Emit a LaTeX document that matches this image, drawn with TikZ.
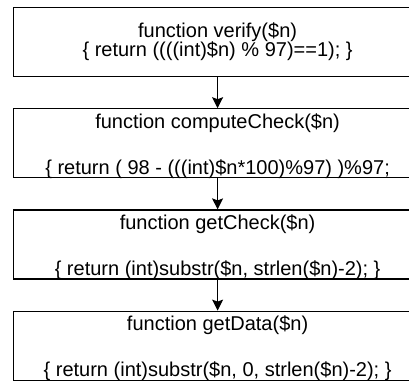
\documentclass[tikz,border=0pt]{standalone}
\usepackage{fontspec}
\setmainfont{Liberation Sans}
\usetikzlibrary{positioning, arrows.meta}

\tikzset{
  funcbox/.style={draw, line width=1.2pt, minimum width=408pt, minimum height=69pt,
    inner sep=0pt, align=center, font=\fontsize{20}{22}\selectfont},
  lowtext/.style={text height=65.5pt, text depth=3.5pt},
  flow/.style={-{Stealth[length=11pt,width=11pt,inset=2pt]}, line width=1.2pt}
}

\begin{document}
\begin{tikzpicture}[x=1pt, y=-1pt]
    % Page frame
    \clip (0,0) rectangle (409,380);

    % Function boxes
    \node[funcbox, anchor=north west, font=\fontsize{20}{19}\selectfont] (verify) at (13,7)
        {function verify(\$n)\\\{ return ((((int)\$n) \% 97)==1); \}};
    \node[funcbox, lowtext, below=31pt of verify] (compute)
        {function computeCheck(\$n)\\[24pt]\{ return ( 98 - (((int)\$n*100)\%97) )\%97;};
    \node[funcbox, lowtext, below=31pt of compute] (getcheck)
        {function getCheck(\$n)\\[24pt]\{ return (int)substr(\$n, strlen(\$n)-2); \}};
    \node[funcbox, lowtext, below=31pt of getcheck] (getdata)
        {function getData(\$n)\\[24pt]\{ return (int)substr(\$n, 0, strlen(\$n)-2); \}};

    % Arrows
    \draw[flow] (verify) -- (compute);
    \draw[flow] (compute) -- (getcheck);
    \draw[flow] (getcheck) -- (getdata);
\end{tikzpicture}
\end{document}
